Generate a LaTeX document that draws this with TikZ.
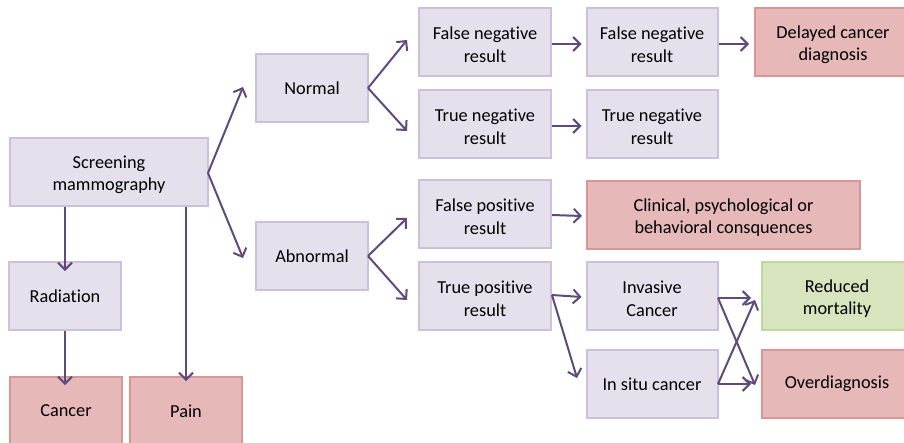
\documentclass[tikz,border=0pt]{standalone}
\usepackage{fontspec}
\setmainfont{Carlito}[Ligatures={NoCommon,NoRare}]
\usetikzlibrary{arrows.meta}
\definecolor{pfill}{HTML}{E5E0EC}
\definecolor{pdraw}{HTML}{CCC0DA}
\definecolor{rfill}{HTML}{E6B9B8}
\definecolor{rdraw}{HTML}{D99694}
\definecolor{gfill}{HTML}{D7E4BD}
\definecolor{gdraw}{HTML}{C3D69B}
\definecolor{arr}{HTML}{604A7B}
\newcommand\lowstrut{\rule{0pt}{18pt}}
\tikzset{
  box/.style={rectangle, draw=pdraw, fill=pfill, line width=2pt, inner sep=0pt,
    align=center, font=\fontsize{18.3}{22.5}\selectfont, minimum height=68pt, minimum width=#1},
  box/.default=112pt,
  rbox/.style={box=#1, draw=rdraw, fill=rfill},
  gbox/.style={box=#1, draw=gdraw, fill=gfill},
  conn/.style={draw=arr, line width=2pt, -{Straight Barb[length=7pt,width=14pt,line width=2pt]}}
}
\begin{document}
\begin{tikzpicture}[x=1pt,y=-1pt]
\useasboundingbox (0,0) rectangle (904,442);
\node[box=198pt] (scr) at (109,172) {\lowstrut Screening\\mammography};
\node[box] (rad) at (65,296) {Radiation};
\node[rbox=112pt] (can) at (66,411) {Cancer};
\node[rbox=112pt] (pain) at (186,411) {Pain};
\node[box] (nor) at (312,88) {Normal};
\node[box] (abn) at (312,256) {Abnormal};
\node[box=132pt] (fn) at (485,42) {\lowstrut False negative\\result};
\node[box=132pt] (tn) at (485,124) {\lowstrut True negative\\result};
\node[box=132pt] (fp) at (485,214) {\lowstrut False positive\\result};
\node[box=132pt] (tp) at (485,296) {\lowstrut True positive\\result};
\node[box=131pt] (fn2) at (652,42) {\lowstrut False negative\\result};
\node[box=131pt] (tn2) at (652,124) {\lowstrut True negative\\result};
\node[rbox=156pt] (del) at (833,42) {\lowstrut Delayed cancer\\diagnosis};
\node[rbox=273pt] (cli) at (723.5,215) {\lowstrut Clinical, psychological or\\behavioral consquences};
\node[box=131pt] (inv) at (652,296) {\lowstrut Invasive\\Cancer};
\node[box=131pt] (ins) at (652,384) {In situ cancer};
\node[gbox=150pt] (red) at (837,296) {\lowstrut Reduced\\mortality};
\node[rbox=150pt] (ovd) at (837,384) {Overdiagnosis};
% arrow tips
\coordinate (scrR) at (208,173);
\coordinate (tNor) at (243,87);
\coordinate (tAbn) at (243,258);
\coordinate (norR) at (368,88);
\coordinate (abnR) at (368,256);
\coordinate (tpR) at (552,295);
\coordinate (tInsD) at (577,378);
\coordinate (invR) at (718,298);
\coordinate (insR) at (718,384);
\coordinate (tRed) at (755,300);
\coordinate (tOvd) at (755,385);
\draw[conn] (scrR) -- (tNor);
\draw[conn] (scrR) -- (tAbn);
\draw[conn] (scr.south -| rad) -- ([yshift=-10pt]rad.north);
\draw[conn] (rad.south) -- ([yshift=-9pt]can.north -| rad);
\draw[conn] (scr.south -| pain) -- ([yshift=-5pt]pain.north);
\draw[conn] (norR) -- ([shift={(-11pt,2pt)}]fn.west);
\draw[conn] (norR) -- ([shift={(-11pt,-7pt)}]tn.west);
\draw[conn] (abnR) -- ([shift={(-11pt,-4pt)}]fp.west);
\draw[conn] (abnR) -- ([shift={(-11pt,-4pt)}]tp.west);
\draw[conn] ([yshift=-2pt]fn.east) -- ([shift={(-4pt,-2pt)}]fn2.west);
\draw[conn] ([yshift=-2pt]tn.east) -- ([shift={(-4pt,-2pt)}]tn2.west);
\draw[conn] ([yshift=-1pt]fp.east) -- ([shift={(-4pt,-1pt)}]cli.west);
\draw[conn] ([yshift=-2pt]fn2.east) -- ([shift={(-5pt,-2pt)}]del.west);
\draw[conn] (tpR) -- ([shift={(-4pt,-1pt)}]inv.west);
\draw[conn] (tpR) -- (tInsD);
\draw[conn] (invR) -- ([shift={(-10pt,-2pt)}]red.west);
\draw[conn] (invR) -- (tOvd);
\draw[conn] (insR) -- ([shift={(-10pt,0pt)}]ovd.west);
\draw[conn] (insR) -- (tRed);
\end{tikzpicture}
\end{document}
